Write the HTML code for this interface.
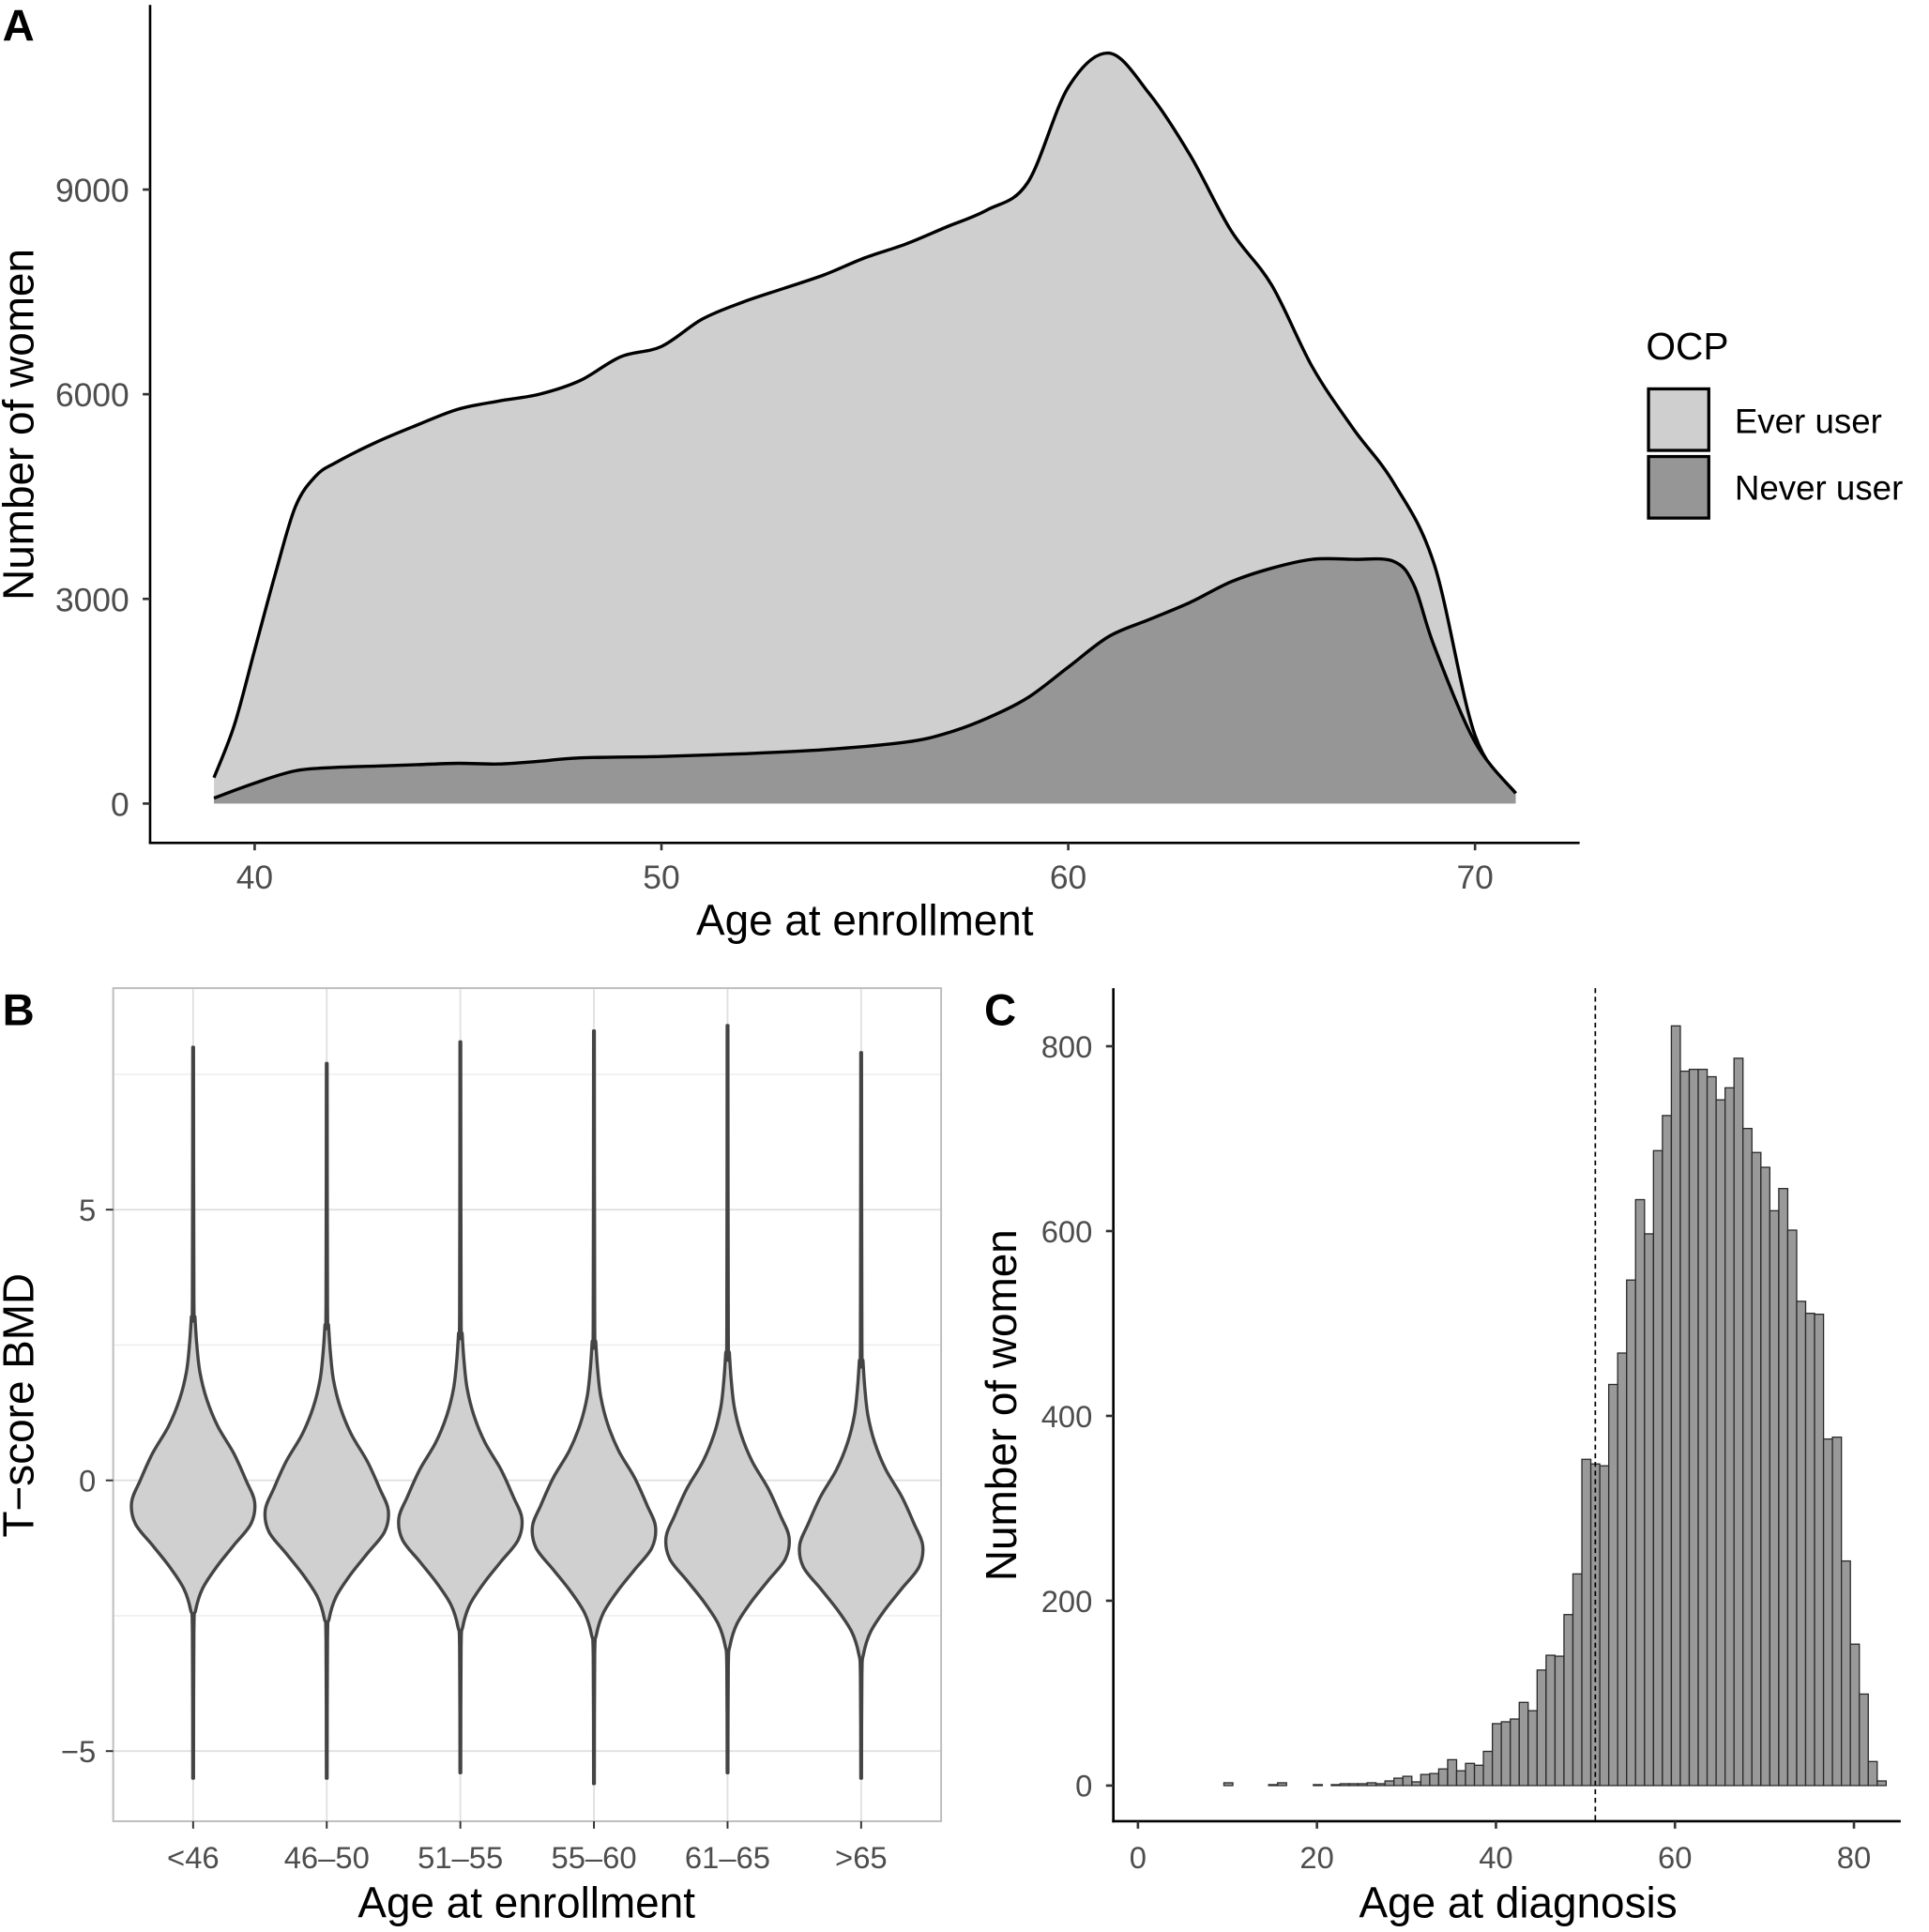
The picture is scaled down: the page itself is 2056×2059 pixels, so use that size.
<!DOCTYPE html>
<html><head><meta charset="utf-8"><style>
html,body{margin:0;padding:0;background:#fff;}
svg{display:block;font-family:"Liberation Sans",Arial,sans-serif;}
</style></head><body>
<svg id="fig" width="2056" height="2059" viewBox="0 0 1568 1570" preserveAspectRatio="none" xmlns="http://www.w3.org/2000/svg">
<rect width="1568" height="1570" fill="#fff"/>
<g id="pA"></g>
<g id="pB"></g>
<g id="pC"></g>
</svg>
<script>
// Panel A data
const ageA = [39,39.5,40,40.5,41,41.5,42,43,44,45,46,47,48,49,50,51,52,53,54,55,56,57,58,59,60,61,62,63,64,65,66,67,68,69,70,71];
const everUser = [380,1150,2250,3350,4350,4800,5000,5300,5550,5780,5900,6000,6200,6550,6700,7100,7350,7550,7750,8000,8200,8450,8700,9100,10500,11000,10400,9500,8400,7600,6400,5500,4700,3500,1000,150];
const ageN = [39,40,41,42,43,44,45,46,47,48,50,52,54,56,57,58,59,60,61,62,63,64,65,66,67,68,68.5,69,70,71];
const neverUser = [80,300,480,530,550,570,590,580,620,670,690,730,790,900,1030,1250,1550,2000,2450,2700,2950,3250,3450,3580,3580,3550,3200,2300,900,150];
const ticksAx = [40,50,60,70];
const ticksAy = [0,3000,6000,9000];
// Panel B data
const groupsB = ["<46","46\u201350","51\u201355","55\u201360","61\u201365",">65"];
const centerShift = [0,-0.15,-0.3,-0.45,-0.65,-0.8];
const tMax = [8.0,7.7,8.1,8.3,8.4,7.9];
const tMin = [-5.5,-5.5,-5.4,-5.6,-5.4,-5.5];
const shapeT = [3.4,3.0,2.5,2.0,1.5,1.0,0.5,0.0,-0.4,-0.8,-1.2,-1.6,-2.0,-2.4,-2.8];
const shapeW = [0.6,1.5,3,5.5,11,20,33,43,50,47,33,19,7.6,2,0.6];
const ticksBy = [-5,0,5];
// Panel C data
const binStart = 1.6;
const counts = [0,0,0,0,0,0,0,0,3,0,0,0,0,1,3,0,0,0,1,0,
 1,2,2,2,3,2,5,8,10,4,12,13,18,28,
 16,24,22,37,67,69,72,90,81,125,141,140,185,229,353,348,346,434,468,547,634,597,687,725,822,773,775,775,767,742,755,787,711,685,669,622,646,601,524,511,510,375,377,243,153,99,26,5];
const ticksCx = [0,20,40,60,80];
const ticksCy = [0,200,400,600,800];
const medianLine = 51.1;

const NS="http://www.w3.org/2000/svg";
function mk(parent,tag,attrs,text){const e=document.createElementNS(NS,tag);for(const k in attrs)e.setAttribute(k,attrs[k]);if(text!==undefined)e.textContent=text;parent.appendChild(e);return e;}
function smooth(pts){let d=`M${pts[0][0]},${pts[0][1]}`;for(let i=0;i<pts.length-1;i++){const p0=pts[Math.max(0,i-1)],p1=pts[i],p2=pts[i+1],p3=pts[Math.min(pts.length-1,i+2)];const c1=[p1[0]+(p2[0]-p0[0])/6,p1[1]+(p2[1]-p0[1])/6],c2=[p2[0]-(p3[0]-p1[0])/6,p2[1]-(p3[1]-p1[1])/6];d+=`C${c1[0]},${c1[1]} ${c2[0]},${c2[1]} ${p2[0]},${p2[1]}`;}return d;}

const TICK_A=27, TICK_BC=25, TITLE=35;

// ---------- Panel A ----------
const A=document.getElementById('pA');
const ax=v=>207+(v-40)*(1199-207)/30, ay=v=>653-v*0.05544;
function area(xs,ys,fill,name){
  const pts=xs.map((x,i)=>[ax(x),ay(ys[i])]);
  const d=smooth(pts);
  const f=mk(A,'path',{d:d+`L${ax(xs[xs.length-1])},${ay(0)}L${ax(xs[0])},${ay(0)}Z`,fill:fill});
  
  
  const l=mk(A,'path',{d:d,fill:'none',stroke:'#000','stroke-width':2.6});
  
  
}
area(ageA,everUser,'#cfcfcf','ever-user');
area(ageN,neverUser,'#969696','never-user');
let e;
e=mk(A,'line',{x1:122,y1:4,x2:122,y2:685,stroke:'#000','stroke-width':2});
e=mk(A,'line',{x1:121,y1:685,x2:1284,y2:685,stroke:'#000','stroke-width':2});
ticksAy.forEach(t=>{mk(A,'line',{x1:116,x2:122,y1:ay(t),y2:ay(t),stroke:'#333','stroke-width':2});
 e=mk(A,'text',{x:105,y:ay(t)+10,'text-anchor':'end','font-size':TICK_A,fill:'#4d4d4d'},t);});
ticksAx.forEach(t=>{mk(A,'line',{x1:ax(t),x2:ax(t),y1:685,y2:691,stroke:'#333','stroke-width':2});
 e=mk(A,'text',{x:ax(t),y:722,'text-anchor':'middle','font-size':TICK_A,fill:'#4d4d4d'},t);});
e=mk(A,'text',{x:703,y:760,'text-anchor':'middle','font-size':TITLE,fill:'#000'},'Age at enrollment');
e=mk(A,'text',{x:0,y:0,transform:'translate(27,345) rotate(-90)','text-anchor':'middle','font-size':TITLE,fill:'#000'},'Number of women');
e=mk(A,'text',{x:2,y:33,'font-size':36,'font-weight':'bold',fill:'#000'},'A');
e=mk(A,'text',{x:1338,y:292,'font-size':31,fill:'#000'},'OCP');
e=mk(A,'rect',{x:1340,y:316,width:49,height:50,fill:'#cfcfcf',stroke:'#000','stroke-width':2.5});
e=mk(A,'rect',{x:1340,y:371,width:49,height:50,fill:'#969696',stroke:'#000','stroke-width':2.5});
e=mk(A,'text',{x:1410,y:352,'font-size':28,fill:'#000'},'Ever user');
e=mk(A,'text',{x:1410,y:406,'font-size':28,fill:'#000'},'Never user');

// ---------- Panel B ----------
const B=document.getElementById('pB');
const by=v=>1203-v*44, bx=i=>157+i*108.6;
[-2.5,2.5,7.5].forEach(t=>mk(B,'line',{x1:92,x2:765,y1:by(t),y2:by(t),stroke:'#ececec','stroke-width':1}));
ticksBy.forEach(t=>mk(B,'line',{x1:92,x2:765,y1:by(t),y2:by(t),stroke:'#e0e0e0','stroke-width':1.4}));
groupsB.forEach((g,i)=>mk(B,'line',{x1:bx(i),x2:bx(i),y1:803,y2:1480,stroke:'#e0e0e0','stroke-width':1.4}));
groupsB.forEach((g,i)=>{
  const cx=bx(i),s=centerShift[i];
  const right=[[cx+0.3,by(tMax[i])]];
  shapeT.forEach((t,j)=>right.push([cx+shapeW[j],by(t+s)]));
  right.push([cx+0.3,by(tMin[i])]);
  const left=right.slice().reverse().map(p=>[2*cx-p[0],p[1]]);
  let d=smooth(right)+smooth(left).replace('M','L')+'Z';
  e=mk(B,'path',{d:d,fill:'#d0d0d0',stroke:'#444','stroke-width':2.6,'stroke-linejoin':'round'});
  
  
});
e=mk(B,'rect',{x:92,y:803,width:673,height:677,fill:'none',stroke:'#bdbdbd','stroke-width':1.5});
ticksBy.forEach(t=>{mk(B,'line',{x1:86,x2:92,y1:by(t),y2:by(t),stroke:'#333','stroke-width':1.5});
 e=mk(B,'text',{x:78,y:by(t)+9,'text-anchor':'end','font-size':TICK_BC,fill:'#4d4d4d'},t<0?'\u2212'+(-t):t);});
groupsB.forEach((g,i)=>{mk(B,'line',{x1:bx(i),x2:bx(i),y1:1480,y2:1486,stroke:'#333','stroke-width':1.5});
 e=mk(B,'text',{x:bx(i),y:1518,'text-anchor':'middle','font-size':TICK_BC,fill:'#4d4d4d'},g);});
e=mk(B,'text',{x:428,y:1558,'text-anchor':'middle','font-size':TITLE,fill:'#000'},'Age at enrollment');
e=mk(B,'text',{x:0,y:0,transform:'translate(27,1142) rotate(-90)','text-anchor':'middle','font-size':TITLE,fill:'#000'},'T\u2212score BMD');
e=mk(B,'text',{x:2,y:833,'font-size':36,'font-weight':'bold',fill:'#000'},'B');

// ---------- Panel C ----------
const C=document.getElementById('pC');
const cx=v=>925+v*7.275, cy=v=>1451-v*0.751;
counts.forEach((c,i)=>{
  if(c<=0)return;
  const x0=binStart+i;
  e=mk(C,'rect',{x:cx(x0),y:cy(c),width:7.275,height:cy(0)-cy(c),fill:'#999',stroke:'#2a2a2a','stroke-width':1});
  
  
});
e=mk(C,'line',{x1:cx(medianLine),x2:cx(medianLine),y1:803,y2:1480,stroke:'#000','stroke-width':1.3,'stroke-dasharray':'4,3'});
e=mk(C,'line',{x1:905,y1:803,x2:905,y2:1481,stroke:'#000','stroke-width':2});
e=mk(C,'line',{x1:904,y1:1480,x2:1545,y2:1480,stroke:'#000','stroke-width':2});
ticksCy.forEach(t=>{mk(C,'line',{x1:899,x2:905,y1:cy(t),y2:cy(t),stroke:'#333','stroke-width':2});
 e=mk(C,'text',{x:888,y:cy(t)+9,'text-anchor':'end','font-size':TICK_BC,fill:'#4d4d4d'},t);});
ticksCx.forEach(t=>{mk(C,'line',{x1:cx(t),x2:cx(t),y1:1480,y2:1486,stroke:'#333','stroke-width':2});
 e=mk(C,'text',{x:cx(t),y:1518,'text-anchor':'middle','font-size':TICK_BC,fill:'#4d4d4d'},t);});
e=mk(C,'text',{x:1234,y:1558,'text-anchor':'middle','font-size':TITLE,fill:'#000'},'Age at diagnosis');
e=mk(C,'text',{x:0,y:0,transform:'translate(826,1142) rotate(-90)','text-anchor':'middle','font-size':TITLE,fill:'#000'},'Number of women');
e=mk(C,'text',{x:800,y:833,'font-size':36,'font-weight':'bold',fill:'#000'},'C');
</script>
</body></html>
